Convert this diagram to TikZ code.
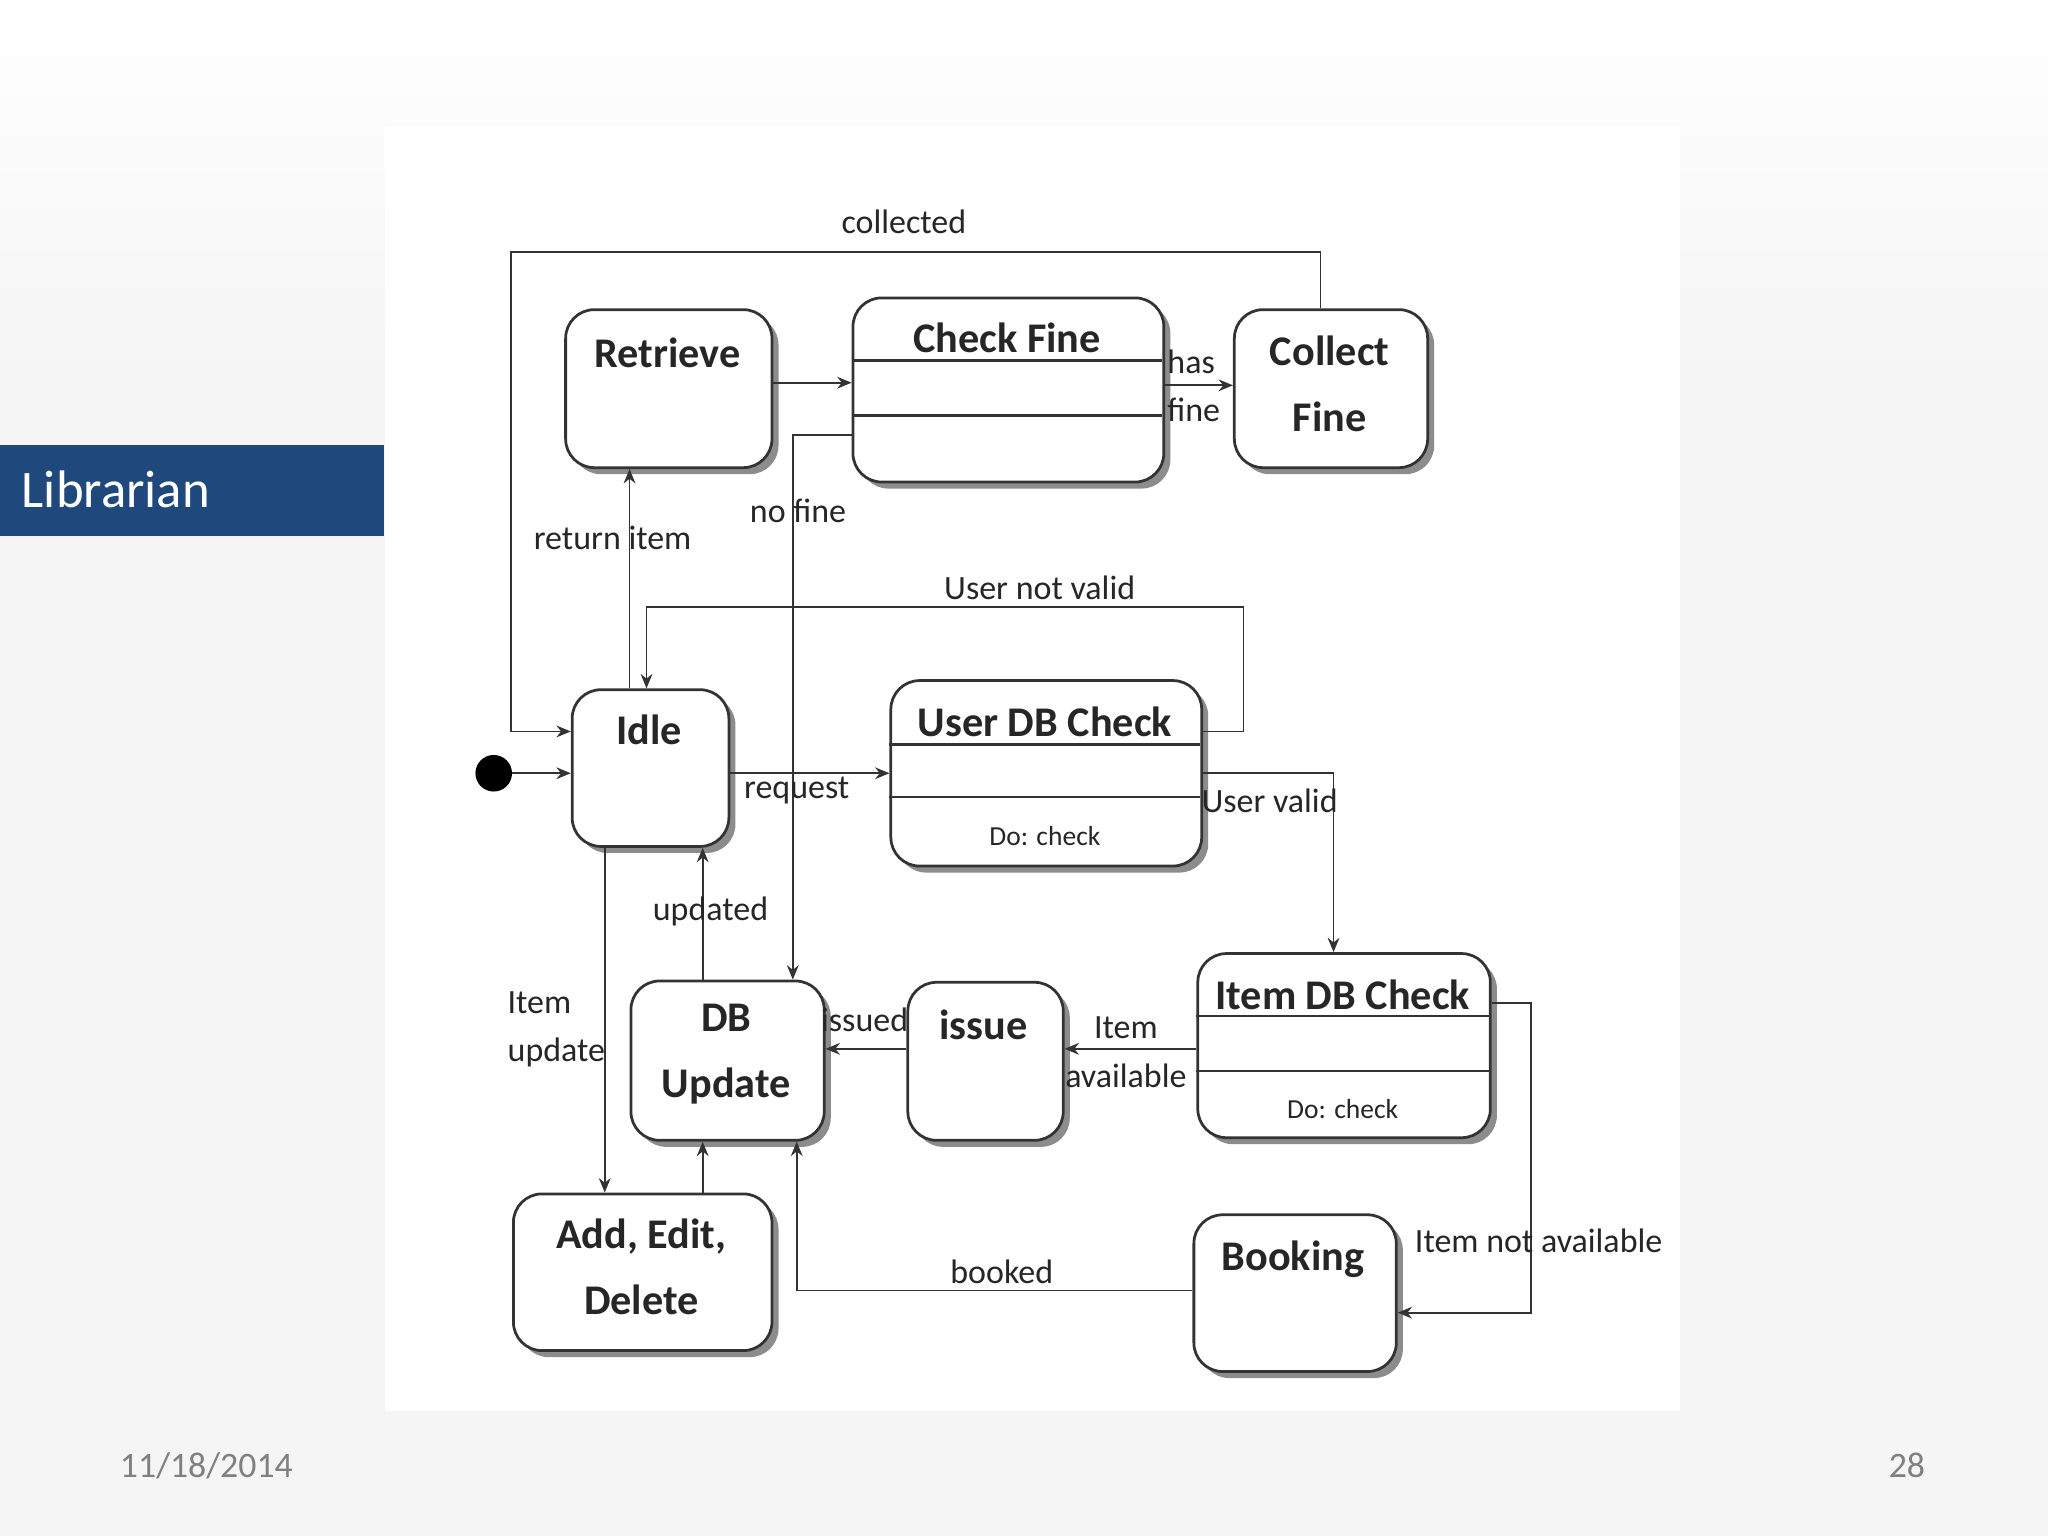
\documentclass[tikz,border=0pt]{standalone}
\usepackage{fontspec}
\setmainfont{Carlito}
\usetikzlibrary{arrows.meta,shadows}
\definecolor{libblue}{HTML}{1F497D}
\begin{document}
\begin{tikzpicture}[x=0.1mm,y=-0.1mm,
  st/.style={draw=black!80,line width=0.6pt,rounded corners=2.2mm,fill=white,anchor=north west,inner sep=0pt,
    drop shadow={shadow xshift=0.5mm,shadow yshift=-0.5mm,fill=black!45,opacity=1},align=center},
  ttl/.style={font=\fontsize{9.2}{11}\selectfont\bfseries,text=black!85},
  doc/.style={font=\fontsize{6}{8}\selectfont,text=black!85},
  lab/.style={font=\fontsize{7.4}{9}\selectfont,text=black!85,inner sep=0pt},
  ar/.style={draw=black!80,line width=0.4pt,-{Stealth[length=1.1mm,width=0.9mm]}},
  sep/.style={draw=black!80,line width=0.5pt}]
% background
\fill[black!4] (0,0) rectangle (1568,1176);
\shade[top color=white,bottom color=black!4] (0,0) rectangle (1568,300);
\fill[white] (295,97) rectangle (1286,1080);
\fill[libblue] (0,341) rectangle (294,410);
\node[anchor=west,text=white,font=\fontsize{11.5}{14}\selectfont,inner sep=0pt] (lib) at (16,375) {Librarian};
\node[text=black!50,font=\fontsize{7.8}{10}\selectfont] (date) at (158,1122) {11/18/2014};
\node[text=black!50,font=\fontsize{7.8}{10}\selectfont] (pg) at (1460,1122) {28};
% states
\node[st,minimum width=15.8mm,minimum height=12.1mm] (rt) at (432,236) {};
\node[ttl] (rtt) at (511,270) {Retrieve};
\node[st,minimum width=23.8mm,minimum height=14.1mm] (cf) at (652,227) {};
\node[ttl] (cft) at (771,259) {Check Fine};
\draw[sep] (652,276) -- (890,276) (652,318) -- (890,318);
\node[st,minimum width=14.8mm,minimum height=12.1mm] (co) at (944,236) {};
\node[ttl,align=center] (cot) at (1018,294) {Collect\\[1.2mm]Fine};
\node[st,minimum width=12mm,minimum height=12mm] (id) at (437,527) {};
\node[ttl] (idt) at (497,559) {Idle};
\node[st,minimum width=23.8mm,minimum height=14.2mm] (ud) at (681,520) {};
\node[ttl] (udt) at (800,553) {User DB Check};
\draw[sep] (681,570) -- (919,570) (681,610) -- (919,610);
\node[doc] (udd) at (800,640) {Do: check};
\node[st,minimum width=22.4mm,minimum height=14.1mm] (it) at (916,729) {};
\node[ttl] (itt) at (1028,762) {Item DB Check};
\draw[sep] (916,778) -- (1140,778) (916,820) -- (1140,820);
\node[doc] (itd) at (1028,849) {Do: check};
\node[st,minimum width=11.9mm,minimum height=12.1mm] (is) at (694,751) {};
\node[ttl] (ist) at (753,785) {issue};
\node[st,minimum width=14.8mm,minimum height=12.2mm] (db) at (482,750) {};
\node[ttl,align=center] (dbt) at (556,807) {DB\\[1.2mm]Update};
\node[st,minimum width=19.8mm,minimum height=12mm] (ad) at (392,913) {};
\node[ttl,align=center] (adt) at (491,970) {Add, Edit,\\[1.2mm]Delete};
\node[st,minimum width=15.5mm,minimum height=12mm] (bk) at (913,929) {};
\node[ttl] (bkt) at (990,964) {Booking};
\fill (378,592) circle (14) node (init) {};
% connectors
\draw[ar] (rt.east |- 0,293) -- (cf.west |- 0,293);
\draw[ar] (cf.east |- 0,295) -- (co.west |- 0,295);
\node[lab] (l1) at (912,277) {has};
\node[lab] (l2) at (914,314) {fine};
\draw[ar] (co.north -| 1011,0) -- (1011,193) -- (391,193) -- (391,560) -- (id.west |- 0,560);
\node[lab] (l3) at (692,170) {collected};
\draw[ar] (cf.west |- 0,333) -- (607,333) -- (db.north -| 607,0);
\node[lab] (l4) at (611,391) {no fine};
\draw[ar] (id.north -| 482,0) -- (rt.south -| 482,0);
\node[lab] (l5) at (469,412) {return item};
\draw[ar] (ud.east |- 0,560) -- (952,560) -- (952,465) -- (495,465) -- (id.north -| 495,0);
\node[lab] (l6) at (796,450) {User not valid};
\draw[ar] (id.east |- 0,592) -- (ud.west |- 0,592);
\node[lab] (l7) at (610,605) {request};
\draw[ar] (ud.east |- 0,592) -- (1021,592) -- (it.north -| 1021,0);
\node[lab] (l8) at (972,613) {User valid};
\draw[ar] (it.west |- 0,803) -- (is.east |- 0,803);
\node[lab] (l9) at (862,787) {Item};
\node[lab] (l10) at (862,824) {available};
\draw[ar] (is.west |- 0,803) -- (db.east |- 0,803);
\node[lab] (l11) at (662,781) {issued};
\draw[ar] (db.north -| 538,0) -- (id.south -| 538,0);
\node[lab] (l12) at (544,698) {updated};
\draw[ar] (id.south -| 463,0) -- (ad.north -| 463,0);
\node[lab] (l13) at (413,768) {Item};
\node[lab] (l14) at (426,806) {update};
\draw[ar] (ad.north -| 538,0) -- (db.south -| 538,0);
\draw[ar] (bk.west |- 0,988) -- (610,988) -- (db.south -| 610,0);
\node[lab] (l15) at (767,974) {booked};
\draw[ar] (it.east |- 0,768) -- (1172,768) -- (1172,1005) -- (bk.east |- 0,1005);
\node[lab] (l16) at (1178,950) {Item not available};
\draw[ar] (init) ++(14,0) -- (id.west |- 0,592);
\end{tikzpicture}
\end{document}
